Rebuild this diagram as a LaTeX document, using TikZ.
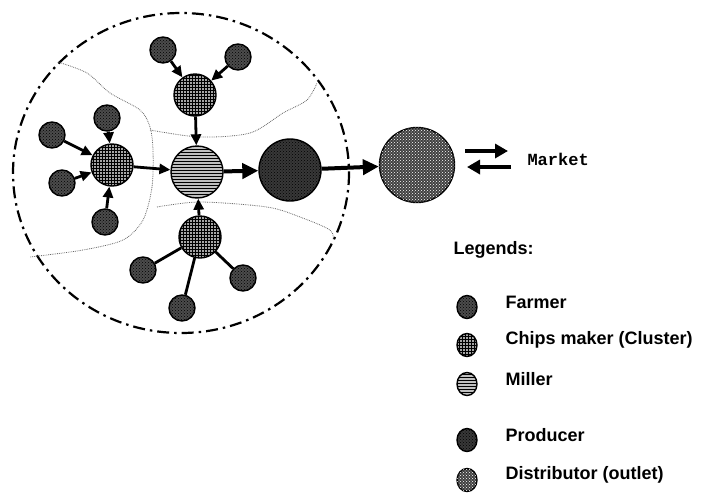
\documentclass[tikz,border=0pt]{standalone}
\usepackage{fontspec}
\setmainfont{Liberation Sans}
\setmonofont{Liberation Mono}
\usetikzlibrary{arrows.meta}
\usetikzlibrary{patterns}
\usetikzlibrary{shapes.geometric}

\tikzset{
	unit/.style={circle, draw=black, line width=1.4pt, inner sep=0pt},
	farmer/.style={unit, minimum size=26pt, fill=black!70, postaction={pattern=crosshatch dots, pattern color=black}},
	chips/.style={unit, minimum size=42pt, fill=black!35, postaction={pattern=grid}},
	miller/.style={unit, minimum size=52pt, fill=black!25, postaction={pattern=horizontal lines}},
	producer/.style={unit, minimum size=62pt, fill=black!78, postaction={pattern=crosshatch dots, pattern color=black}},
	distrib/.style={unit, minimum size=75pt, fill=black!75, postaction={pattern=crosshatch dots, pattern color=white}},
	feed/.style={-{Triangle[length=11pt,width=10pt]}, line width=2.8pt},
	flow/.style={-{Triangle[length=16pt,width=15pt]}, line width=4pt},
	border/.style={black!60, line width=0.8pt, densely dotted},
	legtext/.style={anchor=west, font=\bfseries\fontsize{18}{21}\selectfont},
}

\newcommand{\placeunit}[4]{   % style, name, x, y
	\node[#1] (#2) at (#3, #4) {};
}
\newcommand{\legendrow}[4]{   % style, name, y, text
	\node[#1, ellipse, minimum size=0pt, minimum width=20pt, minimum height=23pt] (#2) at (467, #3) {};
	\node[legtext] (#2-text) at (502, #3 - 5) {#4};
}

\begin{document}
\begin{tikzpicture}[x=1pt, y=-1pt]
\useasboundingbox (0, 0) rectangle (708, 498);

% cluster boundary
\draw[line width=2.2pt, dash pattern=on 12pt off 5pt on 2.5pt off 5pt] (181, 173) ellipse[x radius=168, y radius=160];

\draw[border] plot[smooth] coordinates {(58,62) (87,73) (110,93) (140,110) (150,127) (153,150) (152,187) (143,220) (123,240) (83,250) (30,257)};
\draw[border] plot[smooth] coordinates {(150,130) (200,137) (250,133) (283,113) (307,100) (317,83)};
\draw[border] plot[smooth] coordinates {(157,207) (200,202) (267,207) (300,217) (330,230) (333,240)};

% chain
\placeunit{miller}{mill}{197}{172};
\placeunit{producer}{prod}{290}{170};
\placeunit{distrib}{dist}{417}{165};

\placeunit{chips}{chipT}{195}{95};
\placeunit{chips}{chipL}{112}{165};
\placeunit{chips}{chipB}{200}{237};

\placeunit{farmer}{farmT1}{163}{50};
\placeunit{farmer}{farmT2}{238}{57};
\placeunit{farmer}{farmL1}{52}{135};
\placeunit{farmer}{farmL2}{107}{118};
\placeunit{farmer}{farmL3}{62}{183};
\placeunit{farmer}{farmL4}{105}{222};
\placeunit{farmer}{farmB1}{143}{270};
\placeunit{farmer}{farmB2}{182}{308};
\placeunit{farmer}{farmB3}{243}{278};

\draw[feed] (farmT1) -- (chipT);
\draw[feed] (farmT2) -- (chipT);
\draw[feed] (farmL1) -- (chipL);
\draw[feed] (farmL2) -- (chipL);
\draw[feed] (farmL3) -- (chipL);
\draw[feed] (farmL4) -- (chipL);
\draw[line width=2.8pt] (farmB1) -- (chipB);
\draw[line width=2.8pt] (farmB2) -- (chipB);
\draw[line width=2.8pt] (farmB3) -- (chipB);

\draw[feed] (chipT) -- (mill);
\draw[feed] (chipL) -- (mill);
\draw[feed] (chipB) -- (mill);
\draw[flow] (mill) -- (prod);
\draw[flow] (prod) -- (dist);

% market exchange
\node[anchor=west, font=\ttfamily\bfseries\fontsize{17}{19}\selectfont] (market) at (524, 159) {Market};
\coordinate (outA) at (465, 151);
\coordinate (outB) at (508, 151);
\coordinate (inA) at (511, 167);
\coordinate (inB) at (467, 167);
\draw[-{Triangle[length=13pt,width=14pt]}, line width=3.5pt] (outA) -- (outB);
\draw[-{Triangle[length=13pt,width=14pt]}, line width=3.5pt] (inA) -- (inB);

% legend
\node[legtext] (legends) at (450, 250) {Legends:};
\legendrow{farmer}{legF}{307}{Farmer};
\legendrow{chips}{legC}{345}{Chips maker (Cluster)};
\legendrow{miller}{legM}{384}{Miller};
\legendrow{producer}{legP}{440}{Producer};
\legendrow{distrib}{legD}{480}{Distributor (outlet)};

\end{tikzpicture}
\end{document}
